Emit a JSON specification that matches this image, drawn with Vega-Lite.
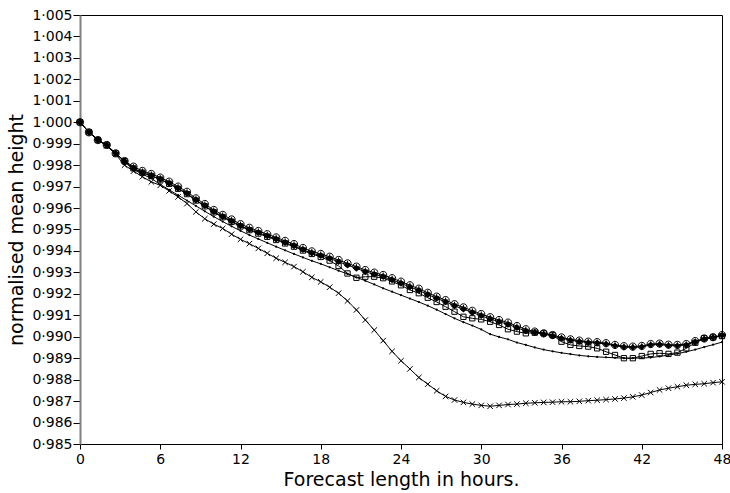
{
  "$schema": "https://vega.github.io/schema/vega-lite/v6.json",
  "width": 642,
  "height": 429,
  "autosize": "none",
  "padding": {"left": 80, "top": 15, "right": 8, "bottom": 49},
  "background": "white",
  "config": {
    "view": {"stroke": "black", "strokeWidth": 1},
    "font": "DejaVu Sans",
    "axis": {"grid": false, "labelFont": "DejaVu Sans", "titleFont": "DejaVu Sans", "labelColor": "black", "titleColor": "black", "tickColor": "black", "domainColor": "black", "titleFontWeight": "normal"}
  },
  "data": {"values": [
    {"h":0,"ci":1.00000,"di":1.00000,"sq":1.00000,"dot":1.00000,"x":1.00000},
    {"h":0.667,"ci":0.99953,"di":0.99953,"sq":0.99953,"dot":0.99955,"x":0.99955},
    {"h":1.333,"ci":0.99917,"di":0.99917,"sq":0.99917,"dot":0.99920,"x":0.99917},
    {"h":2,"ci":0.99894,"di":0.99894,"sq":0.99894,"dot":0.99890,"x":0.99890},
    {"h":2.667,"ci":0.99855,"di":0.99855,"sq":0.99855,"dot":0.99855,"x":0.99850},
    {"h":3.333,"ci":0.99819,"di":0.99819,"sq":0.99819,"dot":0.99815,"x":0.99800},
    {"h":4,"ci":0.99793,"di":0.99785,"sq":0.99785,"dot":0.99780,"x":0.99772},
    {"h":4.667,"ci":0.99773,"di":0.99765,"sq":0.99765,"dot":0.99758,"x":0.99746},
    {"h":5.333,"ci":0.99759,"di":0.99751,"sq":0.99750,"dot":0.99738,"x":0.99722},
    {"h":6,"ci":0.99742,"di":0.99734,"sq":0.99733,"dot":0.99710,"x":0.99706},
    {"h":6.667,"ci":0.99723,"di":0.99715,"sq":0.99713,"dot":0.99685,"x":0.99680},
    {"h":7.333,"ci":0.99700,"di":0.99692,"sq":0.99690,"dot":0.99660,"x":0.99652},
    {"h":8,"ci":0.99676,"di":0.99668,"sq":0.99665,"dot":0.99635,"x":0.99621},
    {"h":8.667,"ci":0.99645,"di":0.99637,"sq":0.99635,"dot":0.99610,"x":0.99582},
    {"h":9.333,"ci":0.99619,"di":0.99611,"sq":0.99608,"dot":0.99585,"x":0.99550},
    {"h":10,"ci":0.99591,"di":0.99583,"sq":0.99580,"dot":0.99560,"x":0.99525},
    {"h":10.667,"ci":0.99568,"di":0.99560,"sq":0.99557,"dot":0.99537,"x":0.99505},
    {"h":11.333,"ci":0.99547,"di":0.99539,"sq":0.99536,"dot":0.99515,"x":0.99478},
    {"h":12,"ci":0.99525,"di":0.99517,"sq":0.99514,"dot":0.99494,"x":0.99454},
    {"h":12.667,"ci":0.99508,"di":0.99500,"sq":0.99497,"dot":0.99474,"x":0.99434},
    {"h":13.333,"ci":0.99493,"di":0.99485,"sq":0.99481,"dot":0.99456,"x":0.99412},
    {"h":14,"ci":0.99478,"di":0.99470,"sq":0.99466,"dot":0.99438,"x":0.99389},
    {"h":14.667,"ci":0.99463,"di":0.99455,"sq":0.99451,"dot":0.99420,"x":0.99366},
    {"h":15.333,"ci":0.99447,"di":0.99439,"sq":0.99435,"dot":0.99403,"x":0.99347},
    {"h":16,"ci":0.99432,"di":0.99424,"sq":0.99420,"dot":0.99386,"x":0.99327},
    {"h":16.667,"ci":0.99414,"di":0.99406,"sq":0.99402,"dot":0.99370,"x":0.99303},
    {"h":17.333,"ci":0.99398,"di":0.99390,"sq":0.99386,"dot":0.99354,"x":0.99277},
    {"h":18,"ci":0.99386,"di":0.99378,"sq":0.99372,"dot":0.99340,"x":0.99256},
    {"h":18.667,"ci":0.99373,"di":0.99365,"sq":0.99355,"dot":0.99324,"x":0.99231},
    {"h":19.333,"ci":0.99358,"di":0.99350,"sq":0.99330,"dot":0.99308,"x":0.99203},
    {"h":20,"ci":0.99342,"di":0.99334,"sq":0.99295,"dot":0.99293,"x":0.99167},
    {"h":20.667,"ci":0.99327,"di":0.99319,"sq":0.99275,"dot":0.99277,"x":0.99125},
    {"h":21.333,"ci":0.99311,"di":0.99303,"sq":0.99280,"dot":0.99261,"x":0.99078},
    {"h":22,"ci":0.99299,"di":0.99291,"sq":0.99280,"dot":0.99244,"x":0.99031},
    {"h":22.667,"ci":0.99288,"di":0.99280,"sq":0.99273,"dot":0.99226,"x":0.98982},
    {"h":23.333,"ci":0.99273,"di":0.99265,"sq":0.99258,"dot":0.99210,"x":0.98932},
    {"h":24,"ci":0.99257,"di":0.99249,"sq":0.99240,"dot":0.99194,"x":0.98888},
    {"h":24.667,"ci":0.99240,"di":0.99232,"sq":0.99218,"dot":0.99178,"x":0.98850},
    {"h":25.333,"ci":0.99224,"di":0.99216,"sq":0.99203,"dot":0.99162,"x":0.98810},
    {"h":26,"ci":0.99205,"di":0.99197,"sq":0.99182,"dot":0.99145,"x":0.98779},
    {"h":26.667,"ci":0.99187,"di":0.99179,"sq":0.99162,"dot":0.99126,"x":0.98748},
    {"h":27.333,"ci":0.99171,"di":0.99163,"sq":0.99140,"dot":0.99106,"x":0.98722},
    {"h":28,"ci":0.99152,"di":0.99144,"sq":0.99117,"dot":0.99086,"x":0.98705},
    {"h":28.667,"ci":0.99137,"di":0.99129,"sq":0.99093,"dot":0.99068,"x":0.98694},
    {"h":29.333,"ci":0.99121,"di":0.99113,"sq":0.99086,"dot":0.99052,"x":0.98686},
    {"h":30,"ci":0.99106,"di":0.99098,"sq":0.99081,"dot":0.99034,"x":0.98680},
    {"h":30.667,"ci":0.99091,"di":0.99083,"sq":0.99070,"dot":0.99012,"x":0.98676},
    {"h":31.333,"ci":0.99078,"di":0.99070,"sq":0.99055,"dot":0.98999,"x":0.98680},
    {"h":32,"ci":0.99066,"di":0.99058,"sq":0.99035,"dot":0.98988,"x":0.98684},
    {"h":32.667,"ci":0.99050,"di":0.99042,"sq":0.99024,"dot":0.98973,"x":0.98686},
    {"h":33.333,"ci":0.99035,"di":0.99027,"sq":0.99016,"dot":0.98962,"x":0.98690},
    {"h":34,"ci":0.99024,"di":0.99020,"sq":0.99019,"dot":0.98950,"x":0.98692},
    {"h":34.667,"ci":0.99016,"di":0.99012,"sq":0.99016,"dot":0.98940,"x":0.98694},
    {"h":35.333,"ci":0.99008,"di":0.99004,"sq":0.99008,"dot":0.98932,"x":0.98695},
    {"h":36,"ci":0.98997,"di":0.98993,"sq":0.98977,"dot":0.98925,"x":0.98697},
    {"h":36.667,"ci":0.98988,"di":0.98984,"sq":0.98962,"dot":0.98919,"x":0.98697},
    {"h":37.333,"ci":0.98982,"di":0.98978,"sq":0.98957,"dot":0.98913,"x":0.98699},
    {"h":38,"ci":0.98977,"di":0.98973,"sq":0.98954,"dot":0.98909,"x":0.98702},
    {"h":38.667,"ci":0.98975,"di":0.98971,"sq":0.98946,"dot":0.98906,"x":0.98704},
    {"h":39.333,"ci":0.98970,"di":0.98966,"sq":0.98930,"dot":0.98904,"x":0.98707},
    {"h":40,"ci":0.98962,"di":0.98958,"sq":0.98915,"dot":0.98902,"x":0.98710},
    {"h":40.667,"ci":0.98956,"di":0.98952,"sq":0.98900,"dot":0.98900,"x":0.98714},
    {"h":41.333,"ci":0.98954,"di":0.98950,"sq":0.98900,"dot":0.98900,"x":0.98720},
    {"h":42,"ci":0.98957,"di":0.98953,"sq":0.98910,"dot":0.98901,"x":0.98728},
    {"h":42.667,"ci":0.98966,"di":0.98962,"sq":0.98920,"dot":0.98903,"x":0.98740},
    {"h":43.333,"ci":0.98968,"di":0.98964,"sq":0.98923,"dot":0.98908,"x":0.98752},
    {"h":44,"ci":0.98963,"di":0.98959,"sq":0.98920,"dot":0.98915,"x":0.98760},
    {"h":44.667,"ci":0.98962,"di":0.98958,"sq":0.98926,"dot":0.98921,"x":0.98767},
    {"h":45.333,"ci":0.98966,"di":0.98962,"sq":0.98946,"dot":0.98930,"x":0.98774},
    {"h":46,"ci":0.98980,"di":0.98976,"sq":0.98972,"dot":0.98940,"x":0.98778},
    {"h":46.667,"ci":0.98992,"di":0.98989,"sq":0.98993,"dot":0.98952,"x":0.98781},
    {"h":47.333,"ci":0.98998,"di":0.98996,"sq":0.98997,"dot":0.98963,"x":0.98786},
    {"h":48,"ci":0.99008,"di":0.99006,"sq":0.99003,"dot":0.98975,"x":0.98790}
  ]},
  "transform": [{"fold": ["ci", "di", "sq", "dot", "x"], "as": ["s", "v"]}],
  "encoding": {
    "x": {"field": "h", "type": "quantitative",
      "scale": {"domain": [0, 48], "nice": false, "zero": false},
      "axis": {"values": [0, 6, 12, 18, 24, 30, 36, 42, 48], "title": "Forecast length in hours.", "titleFontSize": 19, "titlePadding": 4, "labelFontSize": 14, "tickSize": 5, "labelPadding": 3, "labelFlush": false, "domainWidth": 1}},
    "y": {"field": "v", "type": "quantitative",
      "scale": {"domain": [0.985, 1.005], "nice": false, "zero": false},
      "axis": {"values": [0.985, 0.986, 0.987, 0.988, 0.989, 0.990, 0.991, 0.992, 0.993, 0.994, 0.995, 0.996, 0.997, 0.998, 0.999, 1.0, 1.001, 1.002, 1.003, 1.004, 1.005],
        "labelExpr": "replace(format(datum.value, '.3f'), '.', '·')",
        "title": "normalised mean height", "titleFontSize": 19, "titlePadding": 5, "labelFontSize": 14, "tickSize": 7, "labelPadding": 1, "labelFlush": false, "domainColor": "#808080", "domainWidth": 2}}
  },
  "layer": [
    {"mark": {"type": "line", "color": "black", "strokeWidth": 1, "interpolate": "linear"},
     "encoding": {"detail": {"field": "s"}}},
    {"transform": [{"filter": "datum.s === 'dot'"}],
     "mark": {"type": "point", "shape": "circle", "filled": true, "color": "black", "size": 5, "opacity": 1}},
    {"transform": [{"filter": "datum.s === 'x'"}],
     "mark": {"type": "point", "shape": "M-1,-1L1,1M1,-1L-1,1", "filled": false, "color": "black", "strokeWidth": 1, "size": 30, "opacity": 1}},
    {"transform": [{"filter": "datum.s === 'sq'"}],
     "mark": {"type": "point", "shape": "square", "filled": false, "color": "black", "strokeWidth": 1, "size": 28, "opacity": 1}},
    {"transform": [{"filter": "datum.s === 'di'"}],
     "mark": {"type": "point", "shape": "diamond", "filled": true, "color": "black", "size": 45, "opacity": 1}},
    {"transform": [{"filter": "datum.s === 'ci'"}],
     "mark": {"type": "point", "shape": "M-1,0A1,1 0 1,0 1,0A1,1 0 1,0 -1,0M-0.7,0L0.7,0M0,-0.7L0,0.7", "filled": false, "color": "black", "strokeWidth": 1, "size": 52, "opacity": 1}}
  ]
}
